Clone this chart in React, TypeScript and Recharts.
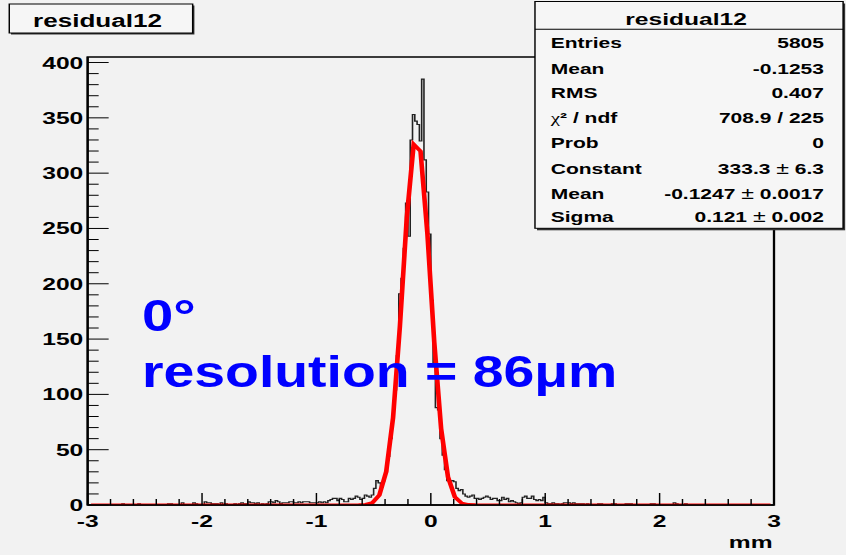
import { ComposedChart, Line, XAxis, YAxis, ReferenceArea } from 'recharts'

// The canvas is drawn narrow and then widened, so every glyph and line is stretched sideways.
const W = 584
const H = 555
const STRETCH = 846 / W
const PLOT = { left: 60.5, right: 534.3, top: 57, bottom: 505 }
const FONT = '"Liberation Sans", Arial, Helvetica, sans-serif'

// residual12: 300 bins of 0.02 mm from -3 to 3
const binLow = -3
const binWidth = 0.02

// bins 0..127  (-3.00 .. -0.44)
const countsLeftTail = [
  0, 0, 0, 0, 0, 0, 0, 0, 0, 0, 0, 0, 0, 0, 0, 1, 0, 0, 0, 0,
  0, 0, 1, 0, 0, 0, 0, 0, 0, 0, 0, 0, 0, 0, 0, 1, 1, 0, 0, 0,
  0, 2, 0, 0, 0, 0, 2, 1, 0, 0, 0, 3, 2, 2, 1, 1, 1, 0, 2, 0,
  1, 0, 0, 0, 1, 0, 1, 2, 1, 1, 3, 2, 2, 1, 2, 0, 1, 0, 1, 3,
  3, 2, 4, 3, 1, 2, 2, 2, 3, 3, 2, 2, 3, 2, 3, 3, 3, 2, 2, 2,
  2, 3, 2, 3, 2, 4, 5, 6, 6, 4, 6, 5, 3, 3, 6, 5, 6, 8, 7, 5,
  6, 9, 8, 7, 9, 15, 22, 20,
]

// bins 128..165  (-0.44 .. 0.32)
const countsPeak = [
  16, 22, 30, 44, 60, 80, 104, 135, 191, 205,
  232, 273, 243, 330, 353, 347, 344, 329, 385, 312,
  283, 245, 185, 128, 88, 86, 60, 45, 32, 22,
  21, 22, 21, 15, 13, 14, 10, 8,
]

// bins 166..299  (0.32 .. 3.00)
const countsRightTail = [
  7, 8, 9, 6, 6, 5, 6, 7, 8, 7, 5, 6, 6, 4, 4, 7, 5, 6, 3, 4,
  3, 2, 1, 2, 7, 8, 6, 6, 8, 5, 4, 5, 4, 7, 2, 1, 1, 2, 1, 1,
  0, 1, 2, 2, 2, 1, 2, 1, 1, 1, 1, 0, 1, 0, 0, 0, 0, 1, 1, 0,
  0, 0, 0, 1, 1, 0, 0, 0, 0, 1, 1, 1, 0, 0, 0, 0, 0, 0, 0, 0,
  1, 1, 0, 0, 0, 0, 0, 0, 0, 0, 2, 1, 0, 0, 0, 1, 0, 0, 0, 0,
  0, 0, 0, 0, 0, 0, 0, 0, 0, 0, 0, 0, 0, 0, 0, 0, 0, 0, 0, 0,
  0, 0, 0, 0, 0, 0, 0, 0, 0, 0, 0, 0, 0, 0,
]

const counts = [...countsLeftTail, ...countsPeak, ...countsRightTail]

// step outline: one point per left bin edge, plus the closing edge at 3
const histData = counts.map((c, i) => ({ x: +(binLow + i * binWidth).toFixed(2), count: c }))
histData.push({ x: 3, count: counts[counts.length - 1] })

// gaus fit, evaluated at the centres of TF1's 100 drawing bins
const fitConstant = 333.3
const fitMean = -0.1247
const fitSigma = 0.121
const fitNpx = 100
const fitData = Array.from({ length: fitNpx }, (_, k) => {
  const x = -3 + (k + 0.5) * (6 / fitNpx)
  return { x, fit: fitConstant * Math.exp(-0.5 * ((x - fitMean) / fitSigma) ** 2) }
})

const xTicks = Array.from({ length: 31 }, (_, k) => Math.round((k * 0.2 - 3) * 10) / 10)
const yTicks = Array.from({ length: 41 }, (_, k) => k * 10)

const statLabels = ['Entries', 'Mean', 'RMS', 'χ² / ndf', 'Prob', 'Constant', 'Mean', 'Sigma']
const statValues = ['5805', '-0.1253', '0.407', '708.9 / 225', '0', '333.3 ± 6.3', '-0.1247 ± 0.0017', '0.121 ± 0.002']
const statBaselines = [48.3, 74, 98.3, 123.3, 148.3, 174, 199.3, 221.7]

const XTick = ({ x, payload }: any) => {
  const v = payload.value
  const major = Number.isInteger(v)
  return (
    <g>
      <line x1={x} x2={x} y1={PLOT.bottom} y2={PLOT.bottom - (major ? 12 : 6)} stroke="#000" strokeWidth={1} />
      {major && (
        <text x={x} y={527} textAnchor="middle" fontFamily={FONT} fontWeight="bold" fontSize={17} fill="#000">
          {String(v)}
        </text>
      )}
    </g>
  )
}

const YTick = ({ y, payload }: any) => {
  const v = payload.value
  const major = v % 50 === 0
  return (
    <g>
      <line x1={PLOT.left} x2={PLOT.left + (major ? 14.5 : 7.6)} y1={y} y2={y} stroke="#000" strokeWidth={1} />
      {major && (
        <text x={PLOT.left - 3} y={y + 6} textAnchor="end" fontFamily={FONT} fontWeight="bold" fontSize={17} fill="#000">
          {v}
        </text>
      )}
    </g>
  )
}

// χ and ± come from the symbol font, so they are set lighter than the rest
function renderStat(s: string) {
  const parts = s.split(/([χ±])/)
  return parts.map((p, i) =>
    p === 'χ' || p === '±' ? (
      <tspan key={i} fontWeight="normal" fontSize={p === '±' ? 16 : undefined} fontFamily={p === 'χ' ? '"Liberation Serif", serif' : FONT}>
        {p}
      </tspan>
    ) : (
      <tspan key={i}>{p}</tspan>
    ),
  )
}

function Boxes() {
  const sb = { left: 369.3, top: 1.5, right: 582, bottom: 228.3 }
  return (
    <svg width={W} height={H} style={{ position: 'absolute', left: 0, top: 0, pointerEvents: 'none' }}>
      {/* title pave */}
      <rect x={7.6} y={5.5} width={126.6} height={29} fill="#333" />
      <rect x={6.4} y={4} width={126.6} height={29} fill="#f6f6f6" stroke="#000" strokeWidth={1} />
      <text x={67.3} y={26.7} textAnchor="middle" fontFamily={FONT} fontWeight="bold" fontSize={18}>
        residual12
      </text>

      {/* stats pave */}
      <rect x={sb.left + 1.4} y={sb.top + 2} width={sb.right - sb.left} height={sb.bottom - sb.top} fill="#333" />
      <rect x={sb.left} y={sb.top} width={sb.right - sb.left} height={sb.bottom - sb.top} fill="#f6f6f6" stroke="#000" strokeWidth={1} />
      <line x1={sb.left} x2={sb.right} y1={29.3} y2={29.3} stroke="#000" strokeWidth={1} />
      <text x={473.6} y={25} textAnchor="middle" fontFamily={FONT} fontWeight="bold" fontSize={17}>
        residual12
      </text>
      {statLabels.map((l, i) => (
        <text key={'l' + i} x={380.2} y={statBaselines[i]} fontFamily={FONT} fontWeight="bold" fontSize={14.5}>
          {renderStat(l)}
        </text>
      ))}
      {statValues.map((v, i) => (
        <text key={'v' + i} x={568.8} y={statBaselines[i]} textAnchor="end" fontFamily={FONT} fontWeight="bold" fontSize={14.5} xmlSpace="preserve">
          {renderStat(v)}
        </text>
      ))}

      <text x={533.3} y={548} textAnchor="end" fontFamily={FONT} fontWeight="bold" fontSize={17}>
        mm
      </text>
    </svg>
  )
}

// the slide annotation sits on top of the widened plot with its own, milder stretch
function Annotation() {
  return (
    <svg width={846} height={555} style={{ position: 'absolute', left: 0, top: 0, pointerEvents: 'none' }}>
      <text transform="translate(142,331) scale(1.25,1)" fontFamily={FONT} fontWeight="bold" fontSize={45} fill="#0000ff">
        0°
      </text>
      <text transform="translate(142,387) scale(1.25,1)" fontFamily={FONT} fontWeight="bold" fontSize={44.3} fill="#0000ff">
        resolution = 86μm
      </text>
    </svg>
  )
}

export default function App() {
  return (
    <div style={{ position: 'absolute', left: 0, top: 0, width: 846, height: 555, background: '#f2f2f2', overflow: 'hidden' }}>
      <div style={{ position: 'absolute', left: 0, top: 0, width: W, height: H, transform: `scaleX(${STRETCH})`, transformOrigin: '0 0' }}>
        <ComposedChart width={W} height={H} margin={{ top: PLOT.top, right: W - PLOT.right, bottom: 0, left: 0 }}>
          <XAxis
            type="number"
            dataKey="x"
            domain={[-3, 3]}
            ticks={xTicks}
            interval={0}
            tick={<XTick />}
            tickLine={false}
            axisLine={{ stroke: '#000', strokeWidth: 1.3 }}
            height={H - PLOT.bottom}
            allowDataOverflow
          />
          <YAxis
            type="number"
            domain={[0, 405]}
            ticks={yTicks}
            interval={0}
            tick={<YTick />}
            tickLine={false}
            axisLine={{ stroke: '#000', strokeWidth: 1.3 }}
            width={PLOT.left}
            allowDataOverflow
          />
          <ReferenceArea x1={-3} x2={3} y1={0} y2={405} fill="none" stroke="#000" strokeWidth={1.6} ifOverflow="visible" />
          <Line
            data={histData}
            dataKey="count"
            type="stepAfter"
            stroke="#222"
            strokeWidth={1.1}
            dot={false}
            activeDot={false}
            isAnimationActive={false}
          />
          <Line
            data={fitData}
            dataKey="fit"
            type="linear"
            stroke="#ff0000"
            strokeWidth={3.2}
            dot={false}
            activeDot={false}
            isAnimationActive={false}
          />
        </ComposedChart>
        <Boxes />
      </div>
      <Annotation />
    </div>
  )
}
